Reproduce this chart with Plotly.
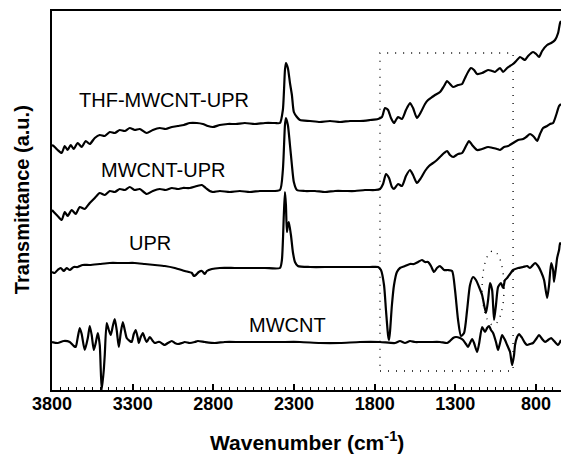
import plotly.graph_objects as go

# ---- data (wavenumber in cm^-1, transmittance in a.u.) ----
thf_wn = [3800,3783,3765,3740,3721,3703,3684,3665,3641,3616,3591,3566,3535,3504,3473,3442,3411,3380,3349,3318,
          3287,3256,3213,3175,3132,3095,3057,3020,2983,2946,2902,2865,2834,2803,2760,2710,2660,2605,2543,2480,
          2418,2387,2369,2356,2350,2338,2325,2313,2301,2282,2263,2201,2139,2077,2015,1953,1891,1829,1779,1755,
          1736,1717,1699,1680,1668,1655,1631,1606,1581,1562,1538,1513,1488,1469,1444,1426,1395,1370,1351,1333,
          1314,1283,1258,1240,1221,1203,1184,1165,1134,1097,1072,1054,1023,1004,979,961,942,923,899,880,
          868,849,818,799,781,762,731,706,682,663,651,645]
thf_t = [245,243,240,237,244,240,245,241,247,243,249,246,252,255,254,258,257,260,259,262,
         260,261,257,260,262,261,263,264,265,267,267,266,264,263,265,266,266,267,266,267,
         267,267,280,320,327,322,307,295,278,273,270,269,268,269,268,269,269,270,271,273,
         282,280,272,267,270,273,271,280,287,282,272,278,286,290,293,295,298,304,309,306,
         303,305,306,312,318,322,320,316,317,320,319,318,322,318,322,324,326,329,333,331,
         330,334,338,336,333,339,345,347,350,357,367,369]

mu_wn = [3800,3783,3765,3740,3721,3703,3678,3653,3628,3597,3566,3535,3504,3473,3442,3411,3380,3349,3318,3287,
         3256,3213,3175,3132,3095,3057,3020,2989,2946,2902,2871,2847,2822,2803,2760,2698,2636,2574,2512,2449,
         2387,2369,2356,2350,2338,2325,2313,2301,2282,2232,2170,2108,2046,1984,1922,1860,1798,1767,1748,1730,
         1711,1693,1680,1655,1631,1606,1581,1562,1538,1513,1488,1463,1438,1414,1389,1370,1351,1333,1314,1283,
         1258,1234,1215,1196,1165,1134,1097,1066,1041,1023,998,973,942,911,880,861,837,812,793,775,
         756,731,713,694,675,657,645]
mu_t = [180,177,174,170,178,174,180,176,183,181,187,192,197,195,199,198,201,200,203,200,
        201,196,199,201,200,202,201,202,202,204,205,202,199,198,199,198,199,198,199,199,
        200,220,265,272,265,245,225,208,200,199,199,198,199,199,199,200,200,201,206,216,
        212,203,201,206,204,214,220,215,207,212,219,224,227,230,234,237,239,235,233,236,
        237,244,249,245,240,241,243,242,241,240,243,244,247,250,251,253,256,253,249,256,
        262,264,266,267,275,284,286]

upr_wn = [3800,3783,3765,3746,3727,3709,3690,3665,3641,3610,3566,3504,3442,3380,3337,3287,3225,3163,3101,3039,
          2977,2933,2921,2909,2890,2871,2853,2840,2809,2760,2667,2574,2480,2387,2375,2363,2356,2350,2344,2338,
          2332,2319,2307,2294,2276,2201,2077,1953,1829,1779,1761,1742,1730,1717,1711,1705,1693,1680,1662,1643,
          1612,1581,1556,1531,1507,1488,1469,1451,1432,1414,1395,1370,1345,1320,1302,1283,1265,1246,1227,1209,
          1190,1172,1153,1134,1110,1097,1085,1072,1060,1048,1035,1017,1004,992,979,961,942,911,880,855,
          837,806,787,768,750,731,719,706,694,688,675,669,657,651,645]
upr_t = [118,117,120,122,119,122,120,123,123,125,125,126,127,127,127,127,126,125,124,122,
         119,117,114,115,118,119,116,119,121,122,122,122,122,122,130,175,198,185,158,165,
         168,155,138,128,124,123,123,123,123,123,120,105,80,55,50,58,85,105,118,122,
         124,126,126,128,130,128,128,124,118,122,124,120,120,119,100,70,54,57,80,105,
         113,110,103,95,77,90,107,100,70,85,103,107,102,110,112,116,120,122,123,124,
         122,127,124,118,110,92,105,127,120,108,124,132,140,147,145]

cnt_wn = [3800,3765,3727,3690,3665,3653,3641,3628,3616,3597,3578,3566,3554,3541,3529,3516,3504,3492,3479,3473,
          3461,3448,3436,3423,3411,3399,3386,3374,3361,3349,3337,3318,3306,3293,3281,3268,3262,3250,3237,3225,
          3213,3194,3175,3163,3144,3132,3113,3101,3082,3057,3039,3020,2995,2977,2946,2915,2896,2853,2791,2729,
          2636,2512,2387,2263,2139,2015,1891,1767,1674,1643,1612,1581,1550,1519,1457,1395,1351,1333,1314,1296,
          1271,1252,1234,1221,1209,1196,1184,1165,1153,1134,1116,1103,1091,1079,1066,1048,1035,1023,1010,992,
          979,961,948,936,930,917,905,886,868,855,837,818,799,781,762,744,725,706,688,663,
          651,645]
cnt_t = [48,47,49,48,44,43,52,62,56,40,52,64,55,40,47,57,45,0,20,35,
         67,60,55,64,71,60,43,57,68,60,52,49,48,56,60,52,47,53,57,52,
         48,53,49,47,48,48,46,45,47,49,47,46,47,48,47,48,49,48,47,48,
         48,48,48,48,47,47,48,48,47,49,47,49,48,48,48,48,47,49,52,53,
         52,50,46,43,47,51,47,38,46,63,58,62,64,60,57,48,40,47,55,50,
         45,38,25,35,45,53,56,52,47,45,46,47,51,55,51,48,50,52,49,45,
         48,50]

series = [("THF-MWCNT-UPR", thf_wn, thf_t),
          ("MWCNT-UPR", mu_wn, mu_t),
          ("UPR", upr_wn, upr_t),
          ("MWCNT", cnt_wn, cnt_t)]

labels = ["THF-MWCNT-UPR", "MWCNT-UPR", "UPR", "MWCNT"]
label_x = [3107, 3113, 3191, 2338]
label_y = [290, 220, 147, 65]

box_x = [1767, 942]
box_y = [19, 337]
ell_x = [1134, 998]
ell_y = [65, 139]

FONT = "Liberation Sans, Arial, Helvetica, sans-serif"

fig = go.Figure()
for name, x, y in series:
    fig.add_trace(go.Scatter(x=x, y=y, mode="lines", name=name,
                             line=dict(color="black", width=2.2, shape="spline", smoothing=0.6),
                             showlegend=False, hoverinfo="skip"))

for t, x, y in zip(labels, label_x, label_y):
    fig.add_annotation(x=x, y=y, text=t, showarrow=False,
                       font=dict(family=FONT, size=20, color="black"),
                       xanchor="center", yanchor="middle")

fig.add_shape(type="rect", x0=box_x[0], x1=box_x[1], y0=box_y[0], y1=box_y[1],
              line=dict(color="black", width=1.3, dash="1px,7px"))
fig.add_shape(type="circle", x0=ell_x[0], x1=ell_x[1], y0=ell_y[0], y1=ell_y[1],
              line=dict(color="black", width=1.3, dash="1px,6px"))

fig.add_annotation(xref="paper", yref="paper", x=0.5, y=-0.1346,
                   text="<b>Wavenumber (cm<sup>-1</sup>)</b>", showarrow=False,
                   font=dict(family=FONT, size=21, color="black"),
                   xanchor="center", yanchor="middle")
fig.add_annotation(xref="paper", yref="paper", x=-0.0589, y=0.501,
                   text="<b>Transmittance (a.u.)</b>", showarrow=False, textangle=-90,
                   font=dict(family=FONT, size=20, color="black"),
                   xanchor="center", yanchor="middle")

fig.update_layout(
    width=561, height=455,
    margin=dict(l=52, r=0, t=11, b=65),
    paper_bgcolor="white", plot_bgcolor="white",
    xaxis=dict(range=[3800, 645], showgrid=False, zeroline=False,
               showline=True, linecolor="black", linewidth=2, mirror=True,
               ticks="inside", ticklen=6, tickwidth=1.5, tickcolor="black",
               tickmode="linear", tick0=300, dtick=500, ticklabelstandoff=-4,
               minor=dict(ticks="inside", ticklen=3, tickwidth=1, tickcolor="black", dtick=50),
               tickfont=dict(family=FONT, size=18, color="black", weight="bold")),
    yaxis=dict(range=[0, 379], showgrid=False, zeroline=False,
               showline=True, linecolor="black", linewidth=2,
               showticklabels=False, ticks=""),
)

fig.write_html("out.html")
